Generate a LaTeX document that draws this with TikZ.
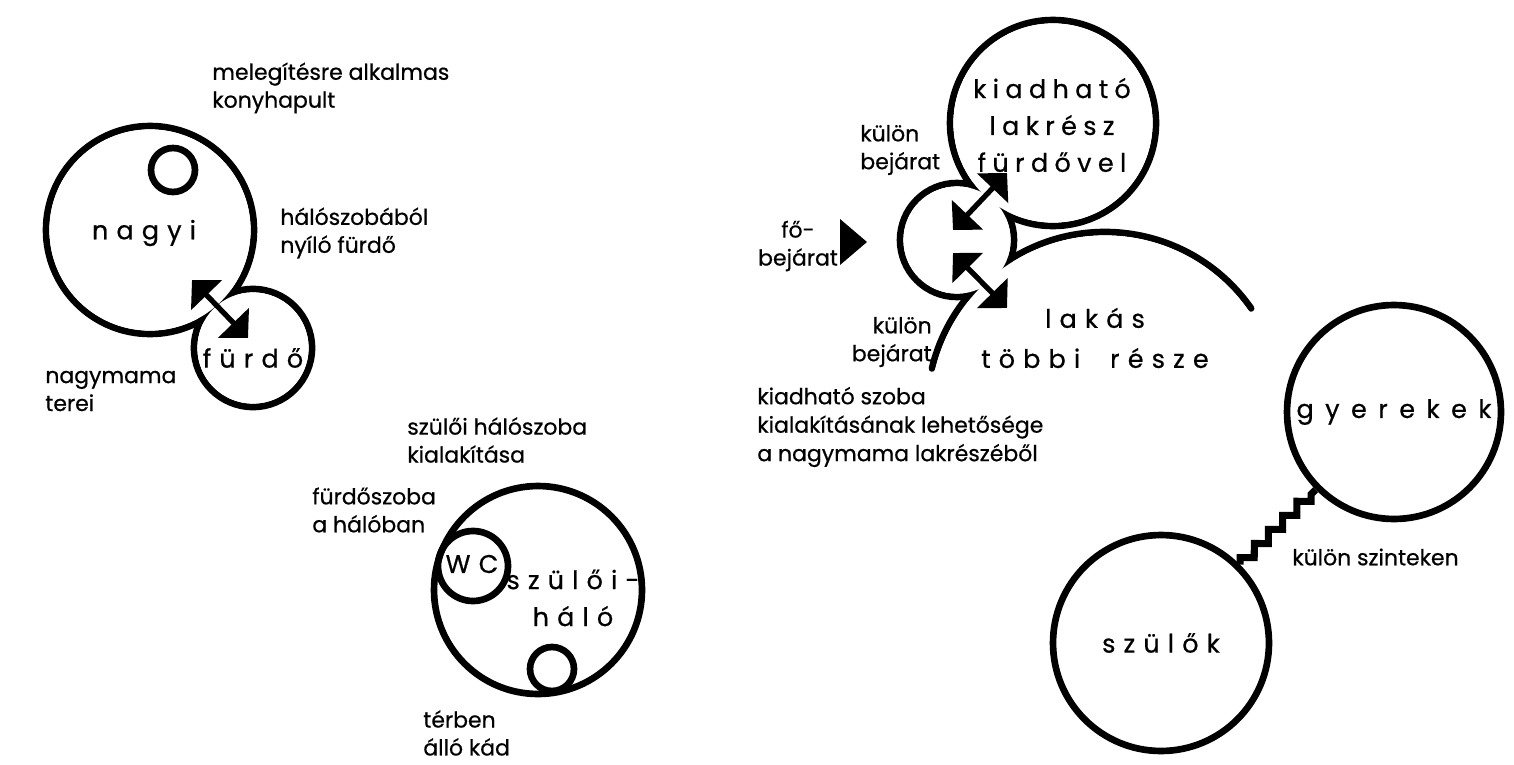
\documentclass[tikz,border=0pt]{standalone}
\usepackage{fontspec}
\setmainfont{Poppins}[FakeBold=0.6]
\newfontfamily\spaced{Poppins}[LetterSpace=32, FakeBold=0.6]
\newfontfamily\spacedtight{Poppins}[LetterSpace=25, FakeBold=0.6]
\newfontfamily\spacedwide{Poppins}[LetterSpace=45, FakeBold=0.6]
\usetikzlibrary{arrows.meta,decorations.pathmorphing}

\newcommand\notefont{\fontsize{12.5pt}{15.9pt}\selectfont}
\newcommand\notefontwide{\fontsize{12.5pt}{16.2pt}\selectfont}
\newcommand\roomfont{\spaced\fontsize{14.5pt}{21pt}\selectfont}
\newcommand\roomfontwide{\spaced\fontsize{14.5pt}{22.8pt}\selectfont}

\begin{document}
\begin{tikzpicture}[x=0.02cm, y=-0.02cm,
  room/.style={circle, draw, line width=3.8pt, inner sep=0pt},
  notetext/.style={font=\notefont, align=left, inner sep=0pt, anchor=west},
  roomname/.style={font=\roomfont, align=center, inner sep=0pt},
  door/.style={line width=3pt,
    {Triangle[length=0.42cm, width=0.84cm]}-{Triangle[length=0.42cm, width=0.84cm]}},
  stair/.style={line width=4pt, line join=miter, decorate,
    decoration={zigzag, segment length=0.4cm, amplitude=0.1cm}}]
  \useasboundingbox (0,0) rectangle (1514,764);

  % nagymama terei
  \node[room, minimum size=4.16cm] (nagyi) at (150,230) {};
  \node[room, minimum size=2.36cm] (furdo) at (253,348) {};
  \fill[white] (nagyi.center) circle[radius=2.08cm-1.9pt];
  \fill[white] (furdo.center) circle[radius=1.18cm-1.9pt];
  \node[room, minimum size=0.88cm] (pult) at (173,170) {};
  \coordinate (na) at (192,280);
  \coordinate (fu) at (248,338);
  \draw[door] (na) -- (fu);
  \node[roomname] at (144,233) {nagyi};
  \node[roomname] at (253,358) {fürdő};
  \node[notetext] at (212,88) {melegítésre alkalmas\\konyhapult};
  \node[notetext] at (280,233) {hálószobából\\nyíló fürdő};
  \node[notetext] at (45,391) {nagymama\\terei};

  % szuloi halo
  \node[room, minimum size=4.16cm] (halo) at (538,590) {};
  \node[room, minimum size=1.4cm] (wc) at (473,566) {};
  \node[room, minimum size=0.88cm] (kad) at (552,669) {};
  \node[roomname] at (472,564) {WC};
  \node[roomname] at (573,598) {szülői-\\háló};
  \node[notetext] at (407,440) {szülői hálószoba\\kialakítása};
  \node[notetext] at (312,510) {fürdőszoba\\a hálóban};
  \node[notetext] at (423,733) {térben\\álló kád};

  % bejaratok
  \node[room, minimum size=2.28cm] (bejarat) at (957,240) {};
  \node[room, minimum size=4.12cm] (kiado) at (1053,123) {};
  \coordinate (lakas) at (1105,410);
  \draw[line width=3.8pt, line cap=round] ([shift={(166.5:3.56cm)}]lakas)
    arc[start angle=166.5, end angle=34.8, radius=3.56cm];
  \fill[white] (bejarat.center) circle[radius=1.14cm-1.9pt];
  \fill[white] (kiado.center) circle[radius=2.06cm-1.9pt];
  \fill[white] (lakas) circle[radius=3.56cm-1.9pt];
  \coordinate (b1) at (953,230);
  \coordinate (k1) at (1007,173);
  \coordinate (b2) at (953,253);
  \coordinate (l1) at (1007,308);
  \draw[door] (b1) -- (k1);
  \draw[door] (b2) -- (l1);
  \fill (840,219) -- (840,265) -- (867,242) -- cycle;
  \node[roomname, font=\spacedtight\fontsize{14.5pt}{21pt}\selectfont] at (1052,125)
    {kiadható\\lakrész\\fürdővel};
  \node[roomname, font=\roomfontwide] at (1095,338) {lakás\\többi\ \ része};
  \node[notetext] at (860,150) {külön\\bejárat};
  \node[notetext, anchor=center, align=center] at (798,246) {fő-\\bejárat};
  \node[notetext, anchor=east, align=right] at (932,342) {külön\\bejárat};
  \node[notetext, font=\notefontwide] at (757,427)
    {kiadható szoba\\kialakításának lehetősége\\a nagymama lakrészéből};

  % szintek
  \node[room, roomname, minimum size=4.32cm] (szulok) at (1161,643) {szülők};
  \node[room, roomname, font=\spacedwide\fontsize{14.5pt}{21pt}\selectfont,
    minimum size=4.28cm] (gyerek) at (1394,412) {gyerekek};
  \draw[stair] (szulok) -- (gyerek);
  \node[notetext] at (1292,557) {külön szinteken};
\end{tikzpicture}
\end{document}
